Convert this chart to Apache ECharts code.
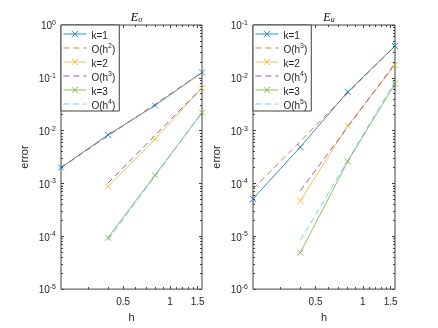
<!DOCTYPE html>
<html>
<head>
<meta charset="utf-8">
<script src="https://cdn.jsdelivr.net/npm/echarts@6/dist/echarts.min.js"></script>
<style>
html, body { margin: 0; padding: 0; background: #fff; }
#chart { width: 438px; height: 328px; }
</style>
</head>
<body>
<div id="chart"></div>
<script>
// mesh sizes
const hVals = [0.2, 0.4, 0.8, 1.6];

// E_sigma panel
const sigK1 = [2.0e-3, 8.3e-3, 3.0e-2, 0.127];
const sigRef2 = [1.98e-3, 7.9e-3, 3.17e-2, 0.127];
const sigK2 = [null, 8.75e-4, 6.9e-3, 6.45e-2];
const sigRef3 = [null, 1.02e-3, 8.1e-3, 6.5e-2];
const sigK3 = [null, 9.4e-5, 1.43e-3, 2.19e-2];
const sigRef4 = [null, 8.6e-5, 1.38e-3, 2.2e-2];

// E_u panel
const uK1 = [5.1e-5, 4.9e-4, 5.4e-3, 4.0e-2];
const uRef3 = [7.9e-5, 6.3e-4, 5.1e-3, 4.05e-2];
const uK2 = [null, 4.7e-5, 1.23e-3, 1.75e-2];
const uRef4 = [null, 7.3e-5, 1.17e-3, 1.87e-2];
const uK3 = [null, 4.9e-6, 2.6e-4, 7.7e-3];
const uRef5 = [null, 8.4e-6, 2.7e-4, 8.6e-3];

const sigLabels = ['k=1', 'O(h^2)', 'k=2', 'O(h^3)', 'k=3', 'O(h^4)'];
const uLabels = ['k=1', 'O(h^3)', 'k=2', 'O(h^4)', 'k=3', 'O(h^5)'];

// axis ticks
const xRange = [0.2, 1.6];
const xMajor = [0.5, 1, 1.5];
const xMinor = [0.3, 0.4, 0.6, 0.7, 0.8, 0.9, 1.1, 1.2, 1.3, 1.4];
const sigDecades = [-5, 0];
const uDecades = [-6, -1];
const minorMult = [2, 3, 4, 5, 6, 7, 8, 9];

const colors = ['#0072BD', '#D95319', '#EDB120', '#7E2F8E', '#77AC30', '#4DBEEE'];
const axisColor = '#404040';
const textColor = '#262626';
const font = 'Liberation Sans';
const crossPath = 'path://M0,0L10,10M10,0L0,10';

const panels = [
  { sub: '\u03c3', series: [sigK1, sigRef2, sigK2, sigRef3, sigK3, sigRef4], labels: sigLabels, decades: sigDecades, left: 61, width: 141 },
  { sub: 'u', series: [uK1, uRef3, uK2, uRef4, uK3, uRef5], labels: uLabels, decades: uDecades, left: 253, width: 142 }
];

function log10List (vals) { return vals.map(v => Math.log10(v)) }

function yMinorList (dec) {
  const out = [];
  for (let e = dec[0]; e < dec[1]; e++) {
    minorMult.forEach(m => out.push(Math.log10(m) + e));
  }
  return out;
}

function supLabel (base, exp) {
  return '{b|' + base + '}{s|' + exp + '}';
}

const supRich = {
  b: { fontSize: 10, color: textColor, fontFamily: font, verticalAlign: 'bottom', lineHeight: 13 },
  s: { fontSize: 7, color: textColor, fontFamily: font, verticalAlign: 'bottom', lineHeight: 8, padding: [0, 0, 5, 0] }
};

const grid = [];
const xAxis = [];
const yAxis = [];
const series = [];
const legend = [];
const title = [];

panels.forEach((p, pi) => {
  grid.push({
    left: p.left, top: 25, width: p.width, height: 266,
    show: true, borderColor: axisColor, borderWidth: 1, backgroundColor: '#fff'
  });

  const xLo = Math.log10(xRange[0]);
  const xHi = Math.log10(xRange[1]);
  const base = pi * 5;

  // data axes (log), hidden
  xAxis.push({ type: 'log', logBase: 10, gridIndex: pi, min: xRange[0], max: xRange[1], show: false });
  yAxis.push({ type: 'log', logBase: 10, gridIndex: pi, min: Math.pow(10, p.decades[0]), max: Math.pow(10, p.decades[1]), show: false });

  // tick / label overlays
  const xTick = (pos, vals, len, labels) => ({
    type: 'value', gridIndex: pi, position: pos, min: xLo, max: xHi,
    axisLine: { show: false, onZero: false }, splitLine: { show: false },
    axisTick: { show: true, inside: true, length: len, customValues: vals, lineStyle: { color: axisColor } },
    axisLabel: labels ? {
      show: true, customValues: vals, margin: 8, fontSize: 10, color: textColor, fontFamily: font,
      formatter: v => String(Math.round(Math.pow(10, v) * 10) / 10)
    } : { show: false },
    name: labels ? 'h' : '', nameLocation: 'middle', nameGap: 22,
    nameTextStyle: { fontSize: 11, color: textColor, fontFamily: font }
  });
  xAxis.push(xTick('bottom', log10List(xMajor), 3, true));
  xAxis.push(xTick('bottom', log10List(xMinor), 2, false));
  xAxis.push(xTick('top', log10List(xMajor), 3, false));
  xAxis.push(xTick('top', log10List(xMinor), 2, false));

  const yTick = (pos, minor, labels) => ({
    type: 'value', gridIndex: pi, position: pos, min: p.decades[0], max: p.decades[1], interval: 1,
    axisLine: { show: false, onZero: false }, splitLine: { show: false },
    axisTick: minor
      ? { show: true, inside: true, length: 2, customValues: yMinorList(p.decades), lineStyle: { color: axisColor } }
      : { show: true, inside: true, length: 3, lineStyle: { color: axisColor } },
    axisLabel: labels ? {
      show: true, margin: 5, rich: supRich,
      formatter: v => supLabel('10', Math.round(v))
    } : { show: false },
    name: labels ? 'error' : '', nameLocation: 'middle', nameGap: 31, nameRotate: 90,
    nameTextStyle: { fontSize: 11, color: textColor, fontFamily: font }
  });
  yAxis.push(yTick('left', false, true));
  yAxis.push(yTick('left', true, false));
  yAxis.push(yTick('right', false, false));
  yAxis.push(yTick('right', true, false));

  const names = [];
  p.series.forEach((vals, i) => {
    const isRef = i % 2 === 1;
    const name = pi + ':' + i;
    names.push(isRef ? { name: name, itemStyle: { opacity: 0 } } : { name: name });
    const pts = [];
    vals.forEach((v, j) => { if (v !== null) pts.push([hVals[j], v]) });
    series.push({
      type: 'line', name: name, xAxisIndex: base, yAxisIndex: base,
      data: pts, clip: false, animation: false,
      symbol: isRef ? 'none' : crossPath, symbolSize: 6,
      itemStyle: { color: colors[i], borderColor: colors[i], borderWidth: 0.8 },
      lineStyle: { color: colors[i], width: 0.8, type: isRef ? [6, 4] : 'solid' },
      emphasis: { disabled: true }
    });
  });

  legend.push({
    orient: 'vertical', left: p.left, top: 25, data: names,
    itemWidth: 23, itemHeight: 8, itemGap: 0, padding: [2, 4, 0, 2],
    backgroundColor: '#fff', borderColor: axisColor, borderWidth: 1, borderRadius: 0,
    selectedMode: false,
    itemStyle: { borderWidth: 0.8 },
    lineStyle: { width: 0.8 },
    textStyle: {
      fontSize: 10, color: textColor, fontFamily: font, lineHeight: 14,
      rich: {
        t: { fontSize: 10, color: textColor, fontFamily: font, verticalAlign: 'bottom', lineHeight: 14 },
        s: { fontSize: 7, color: textColor, fontFamily: font, verticalAlign: 'bottom', lineHeight: 9, padding: [0, 0, 5, 0] }
      }
    },
    formatter: nm => {
      const lab = p.labels[+nm.split(':')[1]];
      const m = lab.match(/^O\(h\^(\d)\)$/);
      return m ? '{t|O(h}{s|' + m[1] + '}{t|)}' : '{t|' + lab + '}';
    }
  });

  title.push({
    text: '{e|E}{s|' + p.sub + '}',
    left: p.left + p.width / 2, top: 4, textAlign: 'center',
    textStyle: {
      fontWeight: 'normal',
      rich: {
        e: { fontSize: 12, fontStyle: 'italic', fontWeight: 'normal', fontFamily: 'Liberation Serif', color: '#000', verticalAlign: 'bottom', lineHeight: 15 },
        s: { fontSize: 8, fontStyle: 'italic', fontWeight: 'normal', fontFamily: 'Liberation Serif', color: '#000', verticalAlign: 'bottom', lineHeight: 8 }
      }
    }
  });
});

const chart = echarts.init(document.getElementById('chart'), null, { renderer: 'canvas' });
chart.setOption({
  backgroundColor: '#fff',
  animation: false,
  textStyle: { fontFamily: font },
  title: title,
  grid: grid,
  xAxis: xAxis,
  yAxis: yAxis,
  legend: legend,
  series: series
});
</script>
</body>
</html>
